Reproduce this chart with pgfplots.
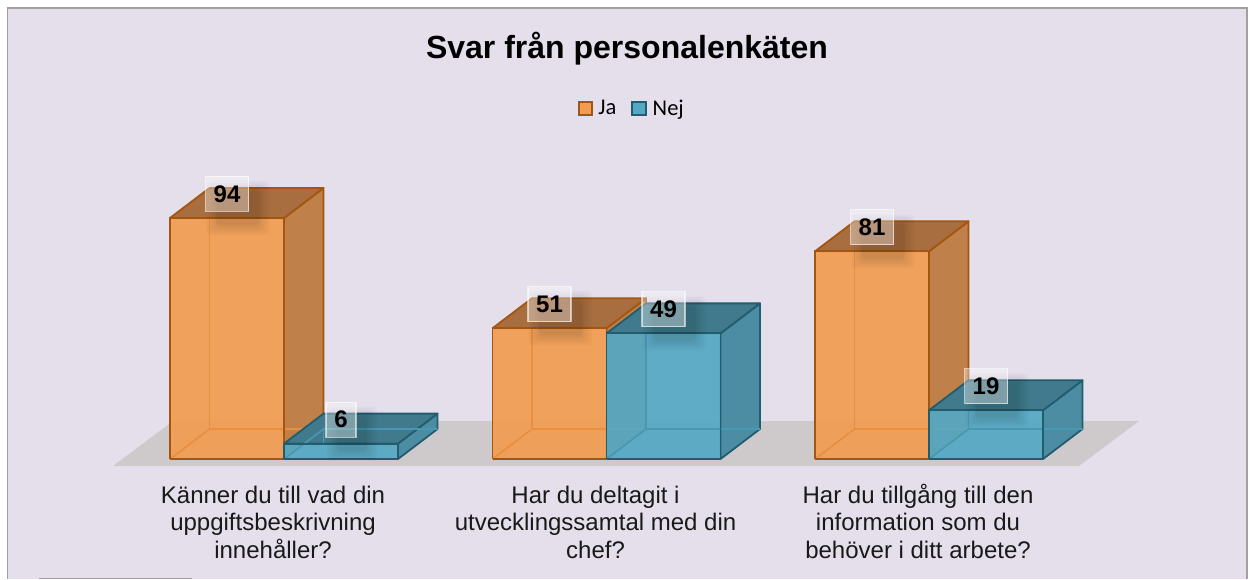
\documentclass[border=0pt]{standalone}
\usepackage{pgfplots}
\pgfplotsset{compat=1.18}
\usepackage{fontspec}
\setmainfont{Liberation Sans}
\newfontfamily\legfont{Carlito}
\definecolor{bgc}{HTML}{E5DFEC}
\definecolor{framec}{HTML}{A0A0A0}
\definecolor{floorc}{HTML}{CEC9CB}
\definecolor{oF}{HTML}{F19C50}
\definecolor{oS}{HTML}{BF8049}
\definecolor{oT}{HTML}{A86E40}
\definecolor{oE}{HTML}{A3560F}
\definecolor{oB}{HTML}{E88F40}
\definecolor{bF}{HTML}{54A8C4}
\definecolor{bS}{HTML}{4C8DA3}
\definecolor{bT}{HTML}{407A8C}
\definecolor{bE}{HTML}{215C6F}
\definecolor{bB}{HTML}{4898B2}
\newcommand{\cube}[3]{% x-left, value, colour prefix
  \pgfmathsetmacro{\xa}{#1}
  \pgfmathsetmacro{\xb}{#1+0.3535}
  \pgfmathsetmacro{\xc}{#1+0.1225}
  \pgfmathsetmacro{\xd}{#1+0.3535+0.1225}
  \pgfmathsetmacro{\yv}{#2}
  \pgfmathsetmacro{\yd}{#2+11.7}
  \addplot[fill=#3S,draw=#3E,line width=1.8pt,line join=round,forget plot] coordinates {(\xb,0)(\xd,11.7)(\xd,\yd)(\xb,\yv)(\xb,0)};
  \addplot[fill=#3T,draw=#3E,line width=1.8pt,line join=round,forget plot] coordinates {(\xa,\yv)(\xc,\yd)(\xd,\yd)(\xb,\yv)(\xa,\yv)};
  \addplot[fill=#3F,fill opacity=.92,draw=#3E,line width=1.8pt,line join=round,forget plot] coordinates {(\xa,0)(\xb,0)(\xb,\yv)(\xa,\yv)(\xa,0)};
  \addplot[#3B,line width=1.6pt,forget plot] coordinates {(\xa,0)(\xc,11.7)(\xd,11.7)};
  \addplot[#3B,line width=1.6pt,forget plot] coordinates {(\xc,11.7)(\xc,\yv)};
  \addplot[#3E,line width=1.8pt,line join=round,forget plot] coordinates {(\xa,0)(\xb,0)(\xb,\yv)(\xa,\yv)(\xa,0)};
}
\newcommand{\shad}[4]{% x, value, width, height
  \node[fill=black,fill opacity=.022,draw=none,inner sep=0pt,rounded corners=4pt,minimum width=#3pt,minimum height=#4pt,xshift=11pt,yshift=10pt] at (axis cs:#1,#2) {};
}
\newcommand{\vlabel}[3]{% x-centre, value, box width
  \pgfmathsetmacro{\swa}{#3+20}\pgfmathsetmacro{\swb}{#3+15}\pgfmathsetmacro{\swc}{#3+10}\pgfmathsetmacro{\swd}{#3+5}\pgfmathsetmacro{\swe}{#3+1}
  \edef\tmpa{\noexpand\shad{#1}{#2}{\swa}{54}\noexpand\shad{#1}{#2}{\swb}{50}\noexpand\shad{#1}{#2}{\swc}{46}\noexpand\shad{#1}{#2}{\swd}{42}\noexpand\shad{#1}{#2}{\swe}{38}\noexpand\shad{#1}{#2}{#3}{34}}\tmpa
  \node[fill=white,fill opacity=.36,draw=white,draw opacity=.6,line width=1.2pt,inner sep=0pt,minimum width=#3pt,minimum height=35pt,yshift=24pt] at (axis cs:#1,#2) {};
  \node[text=black,font=\fontsize{24}{24}\selectfont\bfseries,inner sep=0pt,yshift=24pt] at (axis cs:#1,#2) {#2};
}
\begin{document}
\begin{tikzpicture}
\path[use as bounding box] (0pt,-113pt) rectangle (1248pt,466pt);
\fill[white] (0pt,-113pt) rectangle (1248pt,466pt);
\fill[bgc] (7.5pt,-113pt) rectangle (1246.8pt,458pt);
\draw[framec,line width=1.4pt] (7.5pt,-113pt) -- (7.5pt,458pt) -- (1246.8pt,458pt) -- (1246.8pt,-113pt);
\draw[framec,line width=1.2pt] (39pt,-112.3pt) -- (192pt,-112.3pt);
\begin{axis}[
  at={(0pt,0pt)},anchor=south west,
  scale only axis,width=1248pt,height=466pt,
  xmin=-0.88062,xmax=2.98915,ymin=-2.73,ymax=179.02,
  axis line style={draw=none},
  ytick=\empty,
  xtick={0,1,2},
  xticklabels={{\rule{0pt}{22pt}Känner du till vad din\\uppgiftsbeskrivning\\innehåller?},
               {\rule{0pt}{22pt}Har du deltagit i\\utvecklingssamtal med din\\chef?},
               {\rule{0pt}{22pt}Har du tillgång till den\\information som du\\behöver i ditt arbete?}},
  x tick label style={align=center,font=\fontsize{24}{27.5}\selectfont,xshift=-11pt,yshift=-11.5pt,text=black!90},
  major tick length=0pt,
  clip=false,
  title={\fontsize{32}{32}\selectfont\bfseries Svar från personalenkäten},
  title style={at={(0.5024,0.882)},anchor=center},
  legend style={at={(0.5064,0.768)},anchor=center,draw=none,fill=none,legend columns=2,
     font=\legfont\fontsize{22.5}{22.5}\selectfont,
     /tikz/every even column/.style={column sep=13pt},
     /tikz/every odd column/.style={column sep=3.5pt},inner sep=0pt},
]
\addlegendimage{legend image code/.code={\draw[fill=oF,draw=oE,line width=1.8pt] (0pt,-6.5pt) rectangle (13pt,6.5pt);}}
\addlegendentry{Ja}
\addlegendimage{legend image code/.code={\draw[fill=bF,draw=bE,line width=1.8pt] (0pt,-6.5pt) rectangle (14pt,6.5pt);}}
\addlegendentry{Nej}
\addplot[fill=floorc,draw=none,forget plot] coordinates {(-0.5302,-2.73)(2.4651,-2.73)(2.6512,14.82)(-0.3442,14.82)(-0.5302,-2.73)};
\cube{-0.3535}{94}{o}
\cube{0}{6}{b}
\cube{0.6465}{51}{o}
\cube{1}{49}{b}
\cube{1.6465}{81}{o}
\cube{2}{19}{b}
\vlabel{-0.1767}{94}{43}
\vlabel{0.1767}{6}{30}
\vlabel{0.8233}{51}{43}
\vlabel{1.1767}{49}{43}
\vlabel{1.8233}{81}{43}
\vlabel{2.1767}{19}{43}
\end{axis}
\end{tikzpicture}
\end{document}
